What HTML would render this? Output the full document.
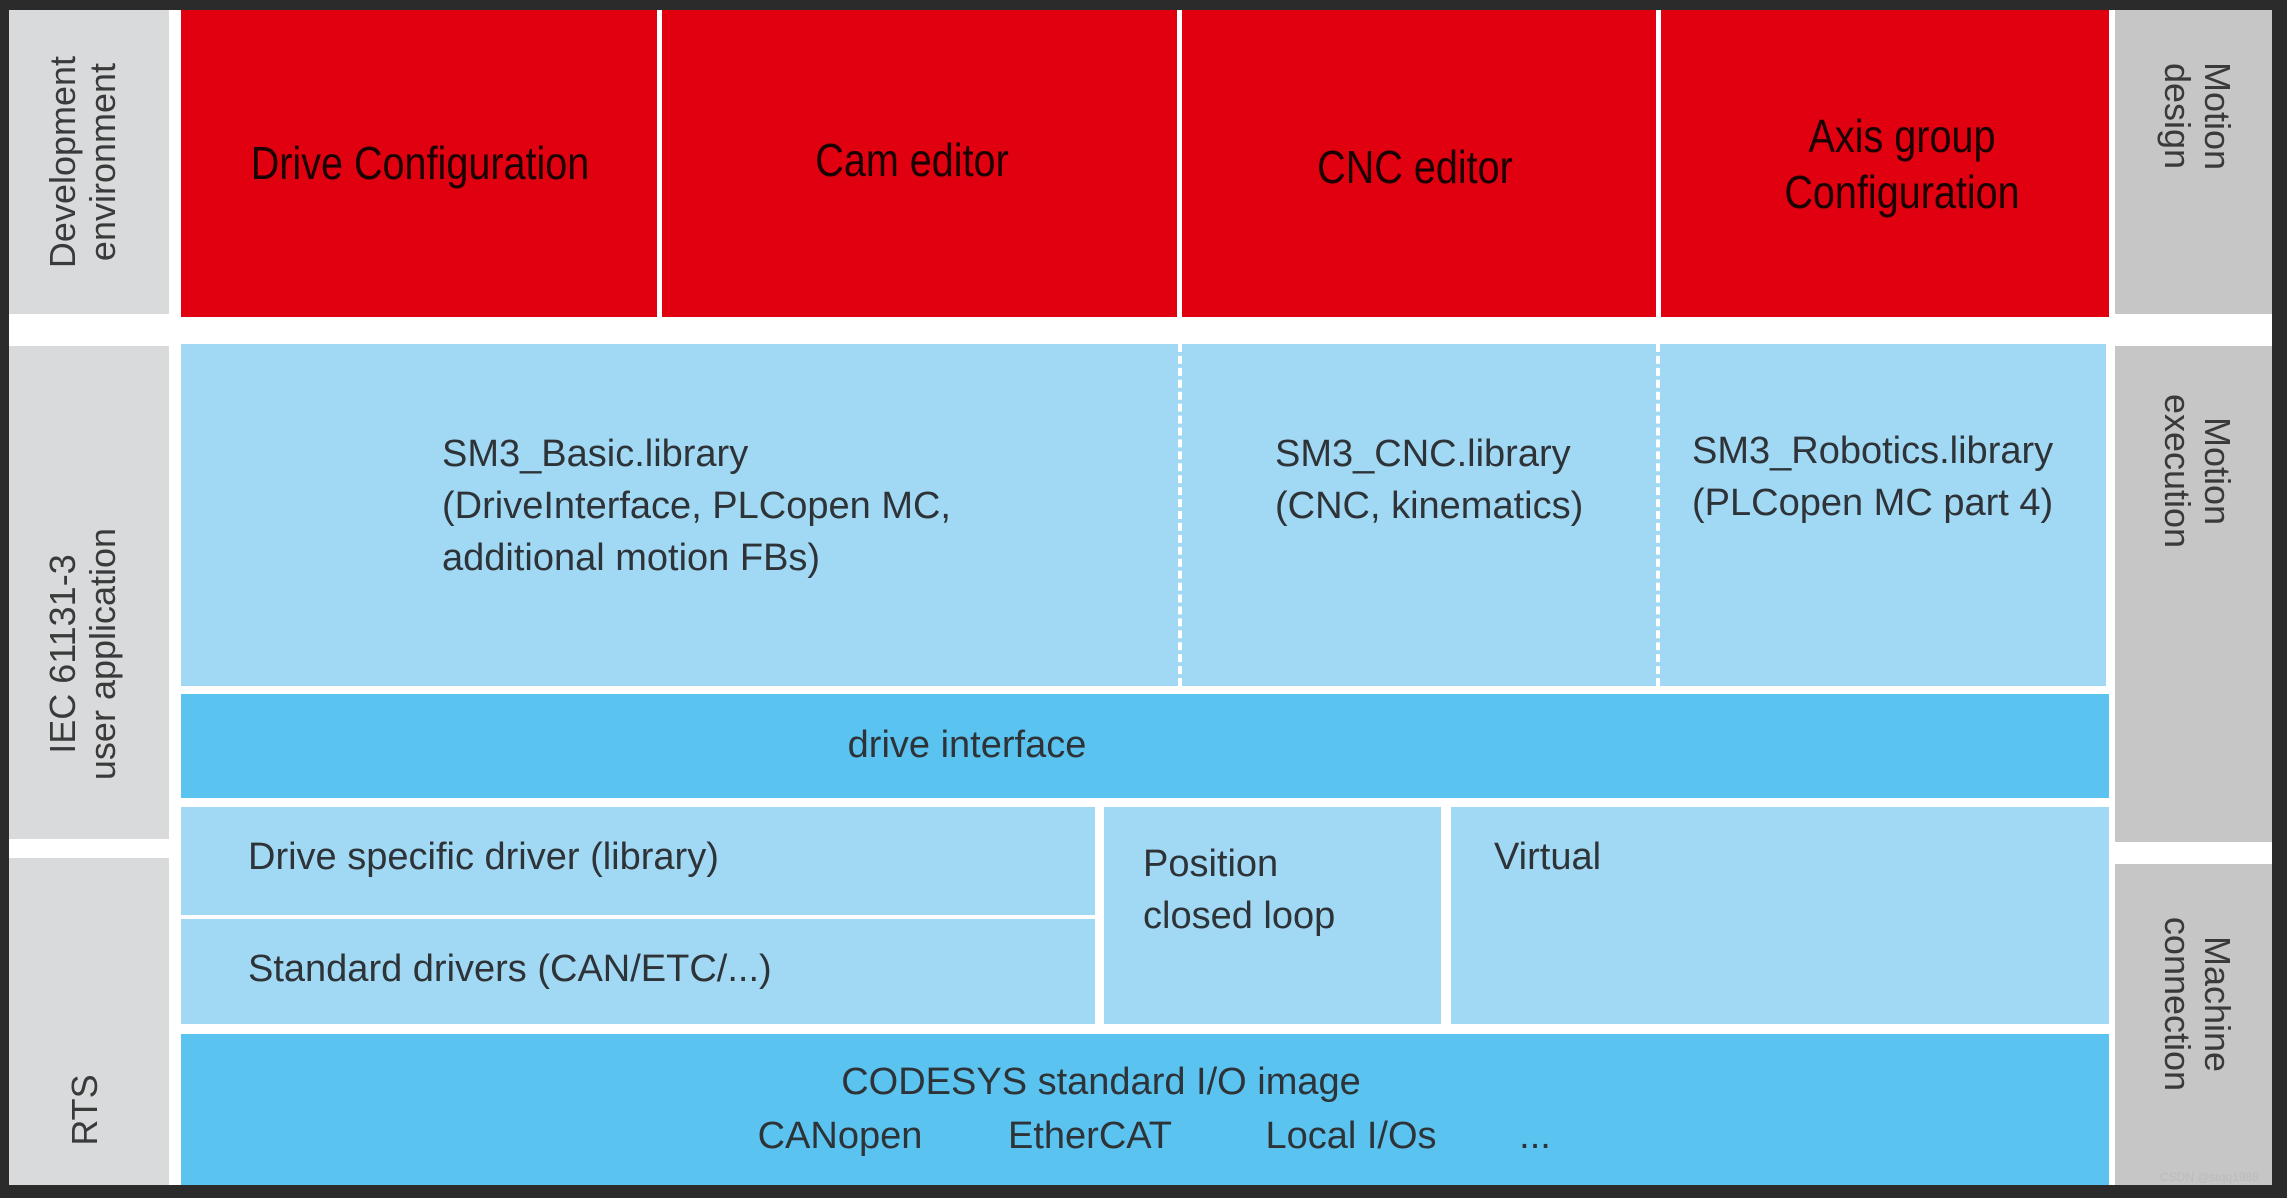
<!DOCTYPE html>
<html><head><meta charset="utf-8"><style>
html,body{margin:0;padding:0}
body{width:2287px;height:1198px;position:relative;background:#2b2b2b;overflow:hidden;font-family:"Liberation Sans",sans-serif}
.b{position:absolute}
.t{position:absolute;color:#2e3338;font-size:38px;white-space:nowrap;line-height:1}
.r{position:absolute;color:#1a0000;font-size:46px;white-space:nowrap;line-height:1;transform:translate(-50%,-50%) scaleX(0.86)}
.v{position:absolute;color:#3a3a3a;font-size:36px;line-height:40px;text-align:center;white-space:nowrap}
.c{transform:translate(-50%,-50%)}
</style></head><body>
<div class="b" style="left:9px;top:10px;width:2263px;height:1175px;background:#fff"></div>
<!-- left gray -->
<div class="b" style="left:9px;top:10px;width:160px;height:304px;background:#d9dadb"></div>
<div class="b" style="left:9px;top:346px;width:160px;height:493px;background:#d9dadb"></div>
<div class="b" style="left:9px;top:858px;width:160px;height:327px;background:#d9dadb"></div>
<!-- right gray -->
<div class="b" style="left:2115px;top:10px;width:157px;height:304px;background:#c6c6c6"></div>
<div class="b" style="left:2115px;top:346px;width:157px;height:496px;background:#c6c6c6"></div>
<div class="b" style="left:2115px;top:864px;width:157px;height:321px;background:#c6c6c6"></div>
<!-- red -->
<div class="b" style="left:181px;top:10px;width:1928px;height:307px;background:#e0000f"></div>
<div class="b" style="left:657px;top:10px;width:5px;height:307px;background:#fff"></div>
<div class="b" style="left:1177px;top:10px;width:5px;height:307px;background:#fff"></div>
<div class="b" style="left:1656px;top:10px;width:5px;height:307px;background:#fff"></div>
<!-- light blue top -->
<div class="b" style="left:181px;top:344px;width:1925px;height:342px;background:#a1d8f4"></div>
<div class="b" style="left:1178px;top:344px;width:0;height:342px;border-left:4px dashed #fff"></div>
<div class="b" style="left:1656px;top:344px;width:0;height:342px;border-left:4px dashed #fff"></div>
<!-- drive interface -->
<div class="b" style="left:181px;top:694px;width:1928px;height:104px;background:#5bc3f0"></div>
<!-- drivers row -->
<div class="b" style="left:181px;top:807px;width:914px;height:108px;background:#a1d8f4"></div>
<div class="b" style="left:181px;top:919px;width:914px;height:105px;background:#a1d8f4"></div>
<div class="b" style="left:1104px;top:807px;width:337px;height:217px;background:#a1d8f4"></div>
<div class="b" style="left:1451px;top:807px;width:658px;height:217px;background:#a1d8f4"></div>
<!-- codesys -->
<div class="b" style="left:181px;top:1034px;width:1928px;height:151px;background:#5bc3f0"></div>

<!-- red texts -->
<div class="r" style="left:420px;top:163px">Drive Configuration</div>
<div class="r" style="left:912px;top:160px">Cam editor</div>
<div class="r" style="left:1415px;top:167px">CNC editor</div>
<div class="r" style="left:1902px;top:136px">Axis group</div>
<div class="r" style="left:1902px;top:192px">Configuration</div>

<!-- blue texts -->
<div class="t" style="left:442px;top:428px;line-height:52px">SM3_Basic.library<br>(DriveInterface, PLCopen MC,<br>additional motion FBs)</div>
<div class="t" style="left:1275px;top:428px;line-height:52px">SM3_CNC.library<br>(CNC, kinematics)</div>
<div class="t" style="left:1692px;top:425px;line-height:52px">SM3_Robotics.library<br>(PLCopen MC part 4)</div>
<div class="t c" style="left:967px;top:745px">drive interface</div>
<div class="t" style="left:248px;top:838px">Drive specific driver (library)</div>
<div class="t" style="left:248px;top:950px">Standard drivers (CAN/ETC/...)</div>
<div class="t" style="left:1143px;top:838px;line-height:52px">Position<br>closed loop</div>
<div class="t" style="left:1494px;top:838px">Virtual</div>
<div class="t c" style="left:1101px;top:1082px">CODESYS standard I/O image</div>
<div class="t c" style="left:840px;top:1136px">CANopen</div>
<div class="t c" style="left:1090px;top:1136px">EtherCAT</div>
<div class="t c" style="left:1351px;top:1136px">Local I/Os</div>
<div class="t c" style="left:1535px;top:1136px">...</div>

<!-- side labels -->
<div class="v" style="left:83px;top:162px;transform:translate(-50%,-50%) rotate(-90deg)">Development<br>environment</div>
<div class="v" style="left:83px;top:654px;transform:translate(-50%,-50%) rotate(-90deg)">IEC 61131-3<br>user application</div>
<div class="v" style="left:85px;top:1110px;transform:translate(-50%,-50%) rotate(-90deg)">RTS</div>
<div class="v" style="left:2197px;top:116px;transform:translate(-50%,-50%) rotate(90deg)">Motion<br>design</div>
<div class="v" style="left:2197px;top:471px;transform:translate(-50%,-50%) rotate(90deg)">Motion<br>execution</div>
<div class="v" style="left:2197px;top:1004px;transform:translate(-50%,-50%) rotate(90deg)">Machine<br>connection</div>
<div class="b" style="left:2160px;top:1170px;font-size:12px;color:#bbb">CSDN @stqq1988</div>
</body></html>
